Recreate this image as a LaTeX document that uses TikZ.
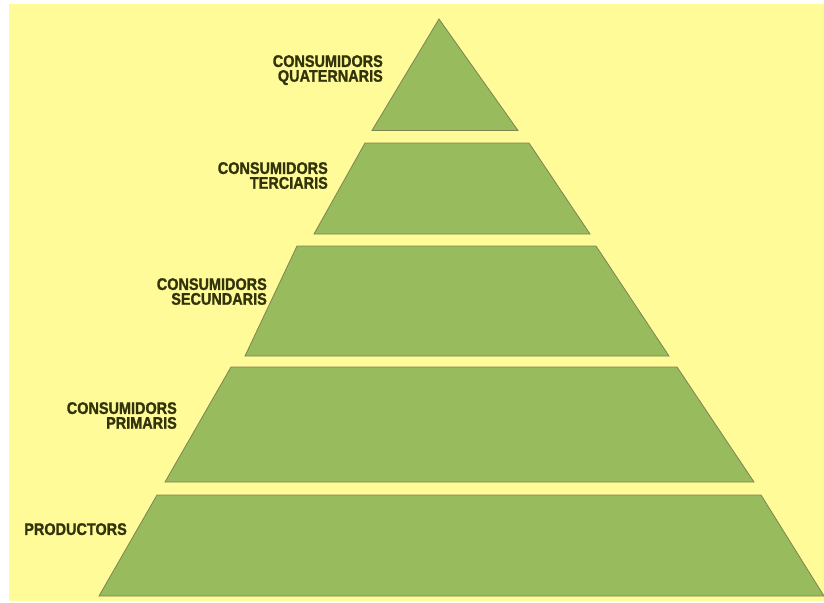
\documentclass[tikz,border=0pt]{standalone}
\usepackage{fontspec}
\newfontfamily\lblfont{Liberation Sans}[FakeStretch=0.86,FakeBold=1.2]
\definecolor{bgyellow}{HTML}{FFFB99}
\definecolor{lvlgreen}{HTML}{97BB5D}
\definecolor{lvledge}{HTML}{7E8452}
\definecolor{lbltext}{HTML}{33330A}
\tikzset{
  level/.style={fill=lvlgreen, draw=lvledge, line width=0.8pt, line join=miter},
  lbl/.style={anchor=north east, inner sep=0pt, align=right, text=lbltext,
    font=\lblfont\bfseries\fontsize{16.8}{14.8}\selectfont}
}
\begin{document}
\begin{tikzpicture}[x=1pt,y=-1pt]
\useasboundingbox (0,0) rectangle (824,602);
\fill[white] (0,0) rectangle (824,602);
\fill[bgyellow] (9,4) rectangle (824,601);
% levels
\filldraw[level] (439,19) -- (518,130.5) -- (372,130.5) -- cycle;
\filldraw[level] (365,143) -- (529,143) -- (590,234) -- (314,234) -- cycle;
\filldraw[level] (297,246) -- (596,246) -- (669,356) -- (245,356) -- cycle;
\filldraw[level] (231,367) -- (677,367) -- (754,482) -- (165,482) -- cycle;
\filldraw[level] (157,495) -- (761,495) -- (824,596) -- (99,596) -- cycle;
% labels
\node[lbl] (q) at (383,55) {CONSUMIDORS\\QUATERNARIS};
\node[lbl] (t) at (328,162) {CONSUMIDORS\\TERCIARIS};
\node[lbl] (s) at (267,278) {CONSUMIDORS\\SECUNDARIS};
\node[lbl] (p) at (177,402) {CONSUMIDORS\\PRIMARIS};
\node[lbl] (pr) at (127,523) {PRODUCTORS};
\end{tikzpicture}
\end{document}
